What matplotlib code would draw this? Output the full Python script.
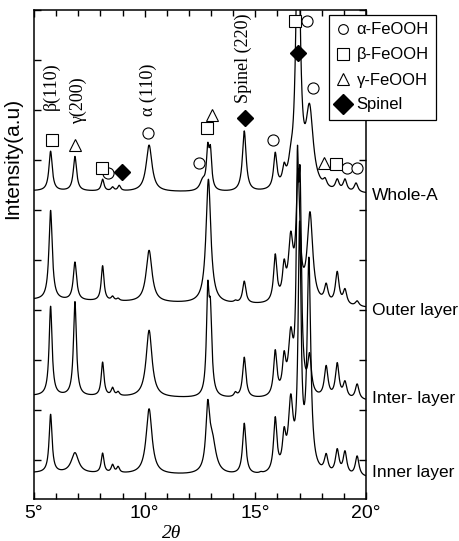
import numpy as np
import matplotlib
matplotlib.use('Agg')
import matplotlib.pyplot as plt
from matplotlib.lines import Line2D
import matplotlib.transforms as mtransforms

# XRD peaks: centre (2theta), height above baseline, fwhm
# heights are in "tick" units (one y tick = 1)
whole_pos = [5.75, 6.85, 8.1, 8.55, 8.85, 10.2, 12.62, 12.85, 12.97, 14.5, 15.9, 16.3, 16.6, 16.93, 17.45, 18.15, 18.7, 19.05, 19.55]
whole_hgt = [0.8, 0.7, 0.25, 0.1, 0.13, 0.94, 0.3, 1.0, 0.95, 1.24, 0.82, 0.62, 1.0, 6.0, 1.8, 0.32, 0.3, 0.3, 0.22]
whole_fw = [0.18, 0.18, 0.15, 0.15, 0.15, 0.32, 0.3, 0.14, 0.14, 0.2, 0.18, 0.18, 0.25, 0.22, 0.4, 0.2, 0.2, 0.2, 0.2]
whole_base = [5.38, 5.32]

outer_pos = [5.75, 6.85, 8.1, 8.55, 8.8, 10.2, 12.88, 14.1, 14.5, 15.9, 16.3, 16.6, 16.93, 17.47, 18.2, 18.7, 19.05, 19.6]
outer_hgt = [1.8, 0.78, 0.72, 0.12, 0.08, 1.05, 2.5, 0.1, 0.48, 1.04, 0.94, 1.5, 2.76, 1.9, 0.48, 0.72, 0.38, 0.14]
outer_fw = [0.18, 0.18, 0.15, 0.15, 0.15, 0.32, 0.26, 0.15, 0.18, 0.18, 0.18, 0.25, 0.2, 0.3, 0.2, 0.2, 0.2, 0.2]
outer_base = [3.2, 3.04]

inter_pos = [5.75, 6.85, 8.1, 8.55, 8.8, 10.2, 12.85, 12.97, 14.1, 14.5, 15.9, 16.3, 16.6, 16.9, 17.02, 17.45, 18.2, 18.7, 19.05, 19.6]
inter_hgt = [1.8, 1.9, 0.7, 0.2, 0.12, 1.35, 2.35, 2.0, 0.15, 0.84, 1.0, 0.98, 1.46, 5.06, 4.66, 0.95, 0.7, 0.76, 0.4, 0.34]
inter_fw = [0.16, 0.16, 0.15, 0.15, 0.15, 0.32, 0.14, 0.16, 0.15, 0.18, 0.18, 0.18, 0.25, 0.12, 0.15, 0.2, 0.2, 0.2, 0.2, 0.2]
inter_base = [1.28, 1.18]

inner_pos = [5.75, 6.85, 8.1, 8.55, 8.8, 10.2, 12.85, 13.05, 14.5, 15.25, 15.9, 16.3, 16.6, 17.0, 17.42, 18.2, 18.7, 19.05, 19.6]
inner_hgt = [1.18, 0.42, 0.42, 0.2, 0.16, 1.32, 1.52, 0.9, 1.06, 0.1, 1.2, 1.0, 1.66, 5.12, 4.4, 0.48, 0.58, 0.54, 0.44]
inner_fw = [0.16, 0.4, 0.15, 0.15, 0.15, 0.32, 0.2, 0.4, 0.18, 0.15, 0.18, 0.18, 0.25, 0.16, 0.2, 0.2, 0.2, 0.2, 0.2]
inner_base = [-0.26, -0.36]

layer_names = ['Whole-A', 'Outer layer', 'Inter- layer', 'Inner layer']
layer_label_y = [5.28, 3.0, 1.22, -0.24]

# phase markers (2theta, y)
circle_x = [8.35, 10.15, 12.46, 15.8, 17.33, 17.6, 19.15, 19.6]
circle_y = [5.74, 6.54, 5.94, 6.4, 8.78, 7.44, 5.84, 5.84]
square_x = [5.81, 8.07, 12.81, 16.79, 18.65]
square_y = [6.4, 5.84, 6.64, 8.78, 5.92]
tri_x = [6.85, 13.03, 18.1]
tri_y = [6.3, 6.9, 5.94]
dia_x = [8.96, 14.53, 16.93]
dia_y = [5.76, 6.84, 8.14]

peak_labels = ['β(110)', 'γ(200)', 'α (110)', 'Spinel (220)']
peak_label_x = [5.78, 6.99, 10.15, 14.44]
peak_label_y = [7.48, 7.18, 7.4, 8.04]


def pattern(x, pos, hgt, fw, base):
    c = np.array(pos)
    w = np.array(fw) / 2
    # amplitudes so that the summed lorentzians hit the read heights at each centre
    m = 1 / (1 + ((c[:, None] - c[None, :]) / w[None, :]) ** 2)
    amp = np.clip(np.linalg.solve(m, np.array(hgt)), 0, None)
    y = base[0] + (base[1] - base[0]) * (x - 5) / 15
    for a, ci, wi in zip(amp, c, w):
        y = y + a / (1 + ((x - ci) / wi) ** 2)
    return y


x = np.linspace(5, 20, 3001)
layers = [(whole_pos, whole_hgt, whole_fw, whole_base),
          (outer_pos, outer_hgt, outer_fw, outer_base),
          (inter_pos, inter_hgt, inter_fw, inter_base),
          (inner_pos, inner_hgt, inner_fw, inner_base)]

fig = plt.figure(figsize=(4.59, 5.41), dpi=100)
ax = fig.add_axes([34 / 459, 42 / 541, 332 / 459, 489 / 541])

for pos, hgt, fw, base in layers:
    ax.plot(x, pattern(x, pos, hgt, fw, base), color='black', lw=0.9)

mk = dict(ls='none', mec='black', mfc='white', mew=0.8, zorder=3)
ax.plot(circle_x, circle_y, marker='o', ms=8, **mk)
ax.plot(square_x, square_y, marker='s', ms=9, **mk)
ax.plot(tri_x, tri_y, marker='^', ms=8.5, **mk)
ax.plot(dia_x, dia_y, marker='D', ls='none', ms=8, color='black', zorder=3)

for lab, lx, ly in zip(peak_labels, peak_label_x, peak_label_y):
    ax.text(lx, ly, lab, rotation=90, ha='center', va='center',
            family='Liberation Serif', fontsize=13)

trans = mtransforms.blended_transform_factory(ax.transAxes, ax.transData)
for name, ly in zip(layer_names, layer_label_y):
    ax.text(1.018, ly, name, transform=trans, ha='left', va='center',
            family='Liberation Sans', fontsize=12.5, clip_on=False)

ax.set_xlim(5, 20)
ax.set_ylim(-0.78, 9)
ax.set_xticks([5, 10, 15, 20])
ax.set_xticklabels(['5°', '10°', '15°', '20°'], family='Liberation Sans', fontsize=14)
ax.set_xticks(np.arange(5, 21, 1), minor=True)
ax.set_yticks(np.arange(0, 10, 1))
ax.set_yticklabels([])
ax.tick_params(which='both', direction='in', top=True, right=True, width=1)
ax.tick_params(which='major', length=5)
ax.tick_params(which='minor', length=4)
ax.tick_params(axis='x', pad=4)
for s in ax.spines.values():
    s.set_linewidth(1.1)

ax.text(0.416, -0.07, '2θ', transform=ax.transAxes, ha='center', va='center',
        family='Liberation Serif', style='italic', fontsize=14)
ax.text(-0.063, 0.697, 'Intensity(a.u)', transform=ax.transAxes, rotation=90,
        ha='center', va='center', family='Liberation Sans', fontsize=15)

handles = [
    Line2D([], [], marker='o', ms=7, ls='none', mec='black', mfc='white', mew=0.8),
    Line2D([], [], marker='s', ms=8, ls='none', mec='black', mfc='white', mew=0.8),
    Line2D([], [], marker='^', ms=8, ls='none', mec='black', mfc='white', mew=0.8),
    Line2D([], [], marker='D', ms=10, ls='none', color='black'),
]
leg = fig.legend(handles, ['α-FeOOH', 'β-FeOOH', 'γ-FeOOH', 'Spinel'],
                 loc='upper left', bbox_to_anchor=(329 / 459, 1 - 15 / 541),
                 prop={'family': 'Liberation Sans', 'size': 12},
                 frameon=True, fancybox=False, framealpha=1, edgecolor='black',
                 handlelength=0.8, handletextpad=0.4, borderpad=0.45,
                 labelspacing=0.6, borderaxespad=0)
leg.get_frame().set_linewidth(0.9)

fig.savefig('out.png', dpi=100)
